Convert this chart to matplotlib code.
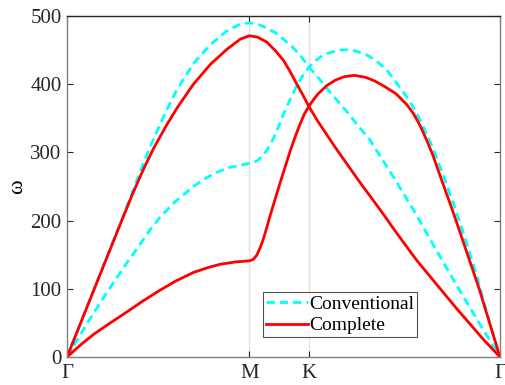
import matplotlib
matplotlib.use('Agg')
import matplotlib.pyplot as plt

plt.rcParams['font.family'] = ['Liberation Serif', 'DejaVu Serif']

# high-symmetry points along the path (normalised path length)
k_pos = [0.0, 0.421, 0.559, 1.0]
k_labels = ['Γ', 'M', 'K', 'Γ']

# conventional model, upper branch
conv_up_x = [0.0, 0.06, 0.12, 0.15, 0.177, 0.20, 0.23, 0.254, 0.292, 0.331, 0.369, 0.40,
             0.421, 0.44, 0.46, 0.48, 0.50, 0.52, 0.54, 0.559, 0.58, 0.60, 0.623,
             0.646, 0.67, 0.70, 0.75, 0.80, 0.85, 0.90, 0.95, 1.0]
conv_up_y = [0, 96, 191, 240, 285, 320, 362, 392, 430, 458, 478, 488,
             490, 488, 483, 476, 466, 455, 441, 425, 410, 394, 377,
             360, 341, 318, 268, 216, 160, 105, 52, 0]

# conventional model, lower branch
conv_lo_x = [0.0, 0.03, 0.061, 0.10, 0.135, 0.165, 0.19, 0.215, 0.25, 0.292, 0.32,
             0.346, 0.375, 0.40, 0.421, 0.43, 0.44, 0.45, 0.46, 0.47, 0.48, 0.49,
             0.50, 0.515, 0.53, 0.545, 0.559, 0.575, 0.59, 0.61, 0.63, 0.646,
             0.665, 0.692, 0.715, 0.738, 0.76, 0.785, 0.80, 0.815, 0.83, 0.846,
             0.87, 0.895, 0.92, 0.945, 0.97, 1.0]
conv_lo_y = [0, 32, 64, 102, 135, 162, 185, 205, 228, 250, 262,
             271, 278, 281, 284, 285, 288, 294, 302, 312, 325, 340,
             356, 377, 397, 413, 425, 435, 442, 447, 450, 450.5,
             449, 443, 434, 421, 403, 381, 366, 348, 328, 305,
             265, 221, 173, 122, 64, 0]

# complete model, upper branch
comp_up_x = [0.0, 0.06, 0.12, 0.15, 0.177, 0.20, 0.23, 0.254, 0.292, 0.331, 0.369, 0.40,
             0.421, 0.44, 0.461, 0.48, 0.50, 0.515, 0.53, 0.545, 0.559, 0.58, 0.60,
             0.62, 0.64, 0.66, 0.68, 0.70, 0.73, 0.76, 0.79, 0.81, 0.84, 0.87,
             0.90, 0.93, 0.96, 1.0]
comp_up_y = [0, 95, 190, 237, 276, 306, 340, 365, 400, 429, 451, 466,
             471, 469, 462, 450, 435, 419, 401, 384, 367, 345, 326,
             307, 289, 271, 253, 236, 210, 183, 157, 140, 117, 94,
             71, 49, 27, 0]

# complete model, lower branch
comp_lo_x = [0.0, 0.03, 0.061, 0.10, 0.138, 0.175, 0.215, 0.25, 0.292, 0.325, 0.354,
             0.39, 0.421, 0.43, 0.438, 0.446, 0.454, 0.462, 0.469, 0.48, 0.492,
             0.505, 0.515, 0.527, 0.538, 0.548, 0.559, 0.57, 0.58, 0.60, 0.62,
             0.64, 0.664, 0.69, 0.71, 0.73, 0.76, 0.785, 0.80, 0.815, 0.83,
             0.845, 0.865, 0.891, 0.92, 0.952, 0.976, 1.0]
comp_lo_y = [0, 17, 33, 50, 66, 82, 98, 111, 124, 131, 136,
             139.5, 141, 143, 149, 160, 174, 191, 207, 230, 255,
             281, 301, 323, 341, 356, 368, 378, 386, 398, 406,
             411, 413, 410, 405, 398, 386, 370, 357, 340, 319,
             296, 260, 214, 160, 100, 50, 0]

fig = plt.figure(figsize=(5.05, 3.85), dpi=100)
ax = fig.add_axes([0.1327, 0.0727, 0.8573, 0.8857])

for xv in k_pos[1:3]:
    ax.axvline(xv, color='#e3e3e3', lw=1, zorder=0)

dash = (3.0, 1.8)
ax.plot(conv_up_x, conv_up_y, color='#00ffff', lw=2, dashes=dash, label='Conventional')
ax.plot(conv_lo_x, conv_lo_y, color='#00ffff', lw=2, dashes=dash)
ax.plot(comp_up_x, comp_up_y, color='#ff0000', lw=2, label='Complete')
ax.plot(comp_lo_x, comp_lo_y, color='#ff0000', lw=2)

ax.set_xlim(0, 1)
ax.set_ylim(0, 500)
ax.set_xticks(k_pos)
ax.set_xticklabels(k_labels)
ax.set_yticks(range(0, 501, 100))
ax.tick_params(direction='in', length=4, width=0.8, labelsize=15, colors='#262626',
               top=True, right=True)
ax.tick_params(axis='x', pad=5)
ax.tick_params(axis='y', pad=4)
ax.set_ylabel('ω', fontsize=16, labelpad=2)

for side in ['left', 'right', 'bottom']:
    ax.spines[side].set_color('#808080')
ax.spines['top'].set_color('#262626')
for sp in ax.spines.values():
    sp.set_linewidth(1)

leg = ax.legend(loc='lower left', bbox_to_anchor=(0.452, 0.058), fontsize=14,
                frameon=True, fancybox=False, edgecolor='#262626',
                handlelength=2.2, handletextpad=0.05, borderpad=0.15,
                labelspacing=0.2, borderaxespad=0)
leg.get_frame().set_linewidth(0.8)

fig.savefig('out.png', dpi=100)
